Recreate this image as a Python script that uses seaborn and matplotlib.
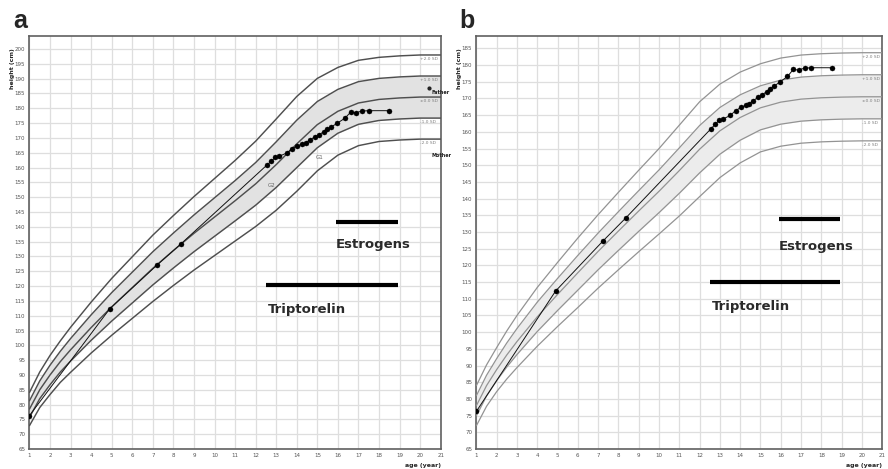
import numpy as np
import pandas as pd
import seaborn as sns
import matplotlib.pyplot as plt
from matplotlib.ticker import MultipleLocator

# reference ages (years) of the growth chart
ages = [1, 1.5, 2, 2.5, 3, 4, 5, 6, 7, 8, 9, 10, 11, 12, 13, 14, 15, 16, 17, 18, 19, 20, 21]

# panel a: boys reference (cm)
boys_mean = [78.5, 85.0, 90.0, 94.5, 98.5, 106.0, 113.0, 119.5, 126.0, 132.0, 137.8, 143.3,
             148.8, 154.5, 161.0, 168.0, 174.5, 179.0, 181.8, 183.0, 183.5, 183.8, 183.8]
boys_sd = [2.8, 3.0, 3.3, 3.5, 3.8, 4.3, 4.8, 5.2, 5.6, 5.9, 6.2, 6.5,
           6.8, 7.2, 7.7, 8.0, 7.8, 7.4, 7.2, 7.1, 7.1, 7.1, 7.1]

# panel b: girls reference (cm)
girls_mean = [78.0, 84.0, 88.8, 93.2, 97.2, 104.6, 111.3, 117.8, 124.2, 130.3, 136.3, 142.2,
              148.4, 154.8, 160.3, 164.3, 167.2, 168.9, 169.8, 170.2, 170.4, 170.5, 170.5]
girls_sd = [3.0, 3.1, 3.3, 3.6, 3.9, 4.4, 4.8, 5.2, 5.5, 5.8, 6.1, 6.4,
            6.8, 7.1, 7.0, 6.8, 6.6, 6.6, 6.6, 6.6, 6.6, 6.6, 6.6]

sd_levels = [2, 1, 0, -1, -2]
sd_names = ["+2.0 SD", "+1.0 SD", "±0.0 SD", "-1.0 SD", "-2.0 SD"]

# patient measurements
pat_age = [1.0, 4.9, 7.22, 8.36, 12.54, 12.76, 12.96, 13.15, 13.5, 13.77, 14.02, 14.27, 14.45,
           14.63, 14.87, 15.08, 15.3, 15.47, 15.65, 15.95, 16.33, 16.62, 16.88, 17.18, 17.5, 18.5]
pat_height = [76.3, 112.3, 127.2, 134.2, 160.8, 162.2, 163.5, 163.8, 164.9, 166.3, 167.3, 167.9, 168.4,
              169.3, 170.3, 171.1, 172.0, 172.9, 173.6, 174.9, 176.6, 178.7, 178.5, 179.1, 179.2, 179.2]

# treatments (start age, end age)
triptorelin = (12.5, 18.9)
estrogens = (15.9, 18.9)

sns.set_style("white")
plt.rcParams['font.family'] = ['DejaVu Sans']

fig = plt.figure(figsize=(8.88, 4.69), dpi=100)
ax_a = fig.add_axes([0.0332, 0.0426, 0.4631, 0.8806])
ax_b = fig.add_axes([0.5365, 0.0426, 0.4570, 0.8806])


def draw_panel(ax, mean, sd, ytop, line_col, band_col, lw):
    mean = np.array(mean)
    sd = np.array(sd)
    rows = []
    for k, name in zip(sd_levels, sd_names):
        for a, h in zip(ages, mean + k * sd):
            rows.append({"age": a, "height": h, "curve": name})
    curves = pd.DataFrame(rows)

    ax.fill_between(ages, mean - sd, mean + sd, color=band_col, lw=0, zorder=1)
    sns.lineplot(data=curves, x="age", y="height", units="curve", estimator=None,
                 color=line_col, lw=lw, ax=ax, zorder=3, legend=False)

    for k, name in zip(sd_levels, sd_names):
        ax.text(20.0, mean[-2] + k * sd[-2] - 1.2, name, fontsize=3.2, color="#808080",
                va="center", ha="left", zorder=4)

    pat = pd.DataFrame({"age": pat_age, "height": pat_height})
    sns.lineplot(data=pat, x="age", y="height", color="#111111", lw=0.7, ax=ax,
                 estimator=None, sort=False, zorder=5)
    sns.scatterplot(data=pat, x="age", y="height", color="black", s=13, ax=ax,
                    edgecolor="black", linewidth=0.3, zorder=6)

    ax.set_xlim(1, 21)
    ax.set_ylim(65, ytop)
    ax.xaxis.set_major_locator(MultipleLocator(1))
    ax.xaxis.set_minor_locator(MultipleLocator(0.25))
    ax.yaxis.set_major_locator(MultipleLocator(5))
    ax.yaxis.set_minor_locator(MultipleLocator(1))
    ax.grid(True, which="major", color="#dedede", lw=0.9, zorder=0)
    ax.set_axisbelow(True)
    ax.tick_params(axis="both", which="major", labelsize=4, length=2, width=0.6,
                   pad=1, colors="#555555", direction="out")
    ax.tick_params(axis="both", which="minor", length=1.2, width=0.4, colors="#777777")
    for s in ax.spines.values():
        s.set_color("#606060")
        s.set_linewidth(1.2)
    ax.set_xlabel("")
    ax.set_ylabel("")


draw_panel(ax_a, boys_mean, boys_sd, 204.4, "#4f4f4f", "#e2e2e2", 1.05)
draw_panel(ax_b, girls_mean, girls_sd, 188.7, "#939393", "#ececec", 0.9)

# treatment bars and labels
bars = [(ax_a, 141.7, 120.5, 134.0, 112.0), (ax_b, 133.9, 115.0, 125.8, 107.8)]
for ax, y_est, y_trip, t_est, t_trip in bars:
    ax.plot(estrogens, [y_est, y_est], color="black", lw=3, solid_capstyle="butt", zorder=7)
    ax.plot(triptorelin, [y_trip, y_trip], color="black", lw=3, solid_capstyle="butt", zorder=7)
    ax.text(estrogens[0], t_est, "Estrogens", fontsize=9.5, fontweight="bold",
            color="#2a2a2a", ha="left", va="center", zorder=7)
    ax.text(triptorelin[0] + 0.1, t_trip, "Triptorelin", fontsize=9.5, fontweight="bold",
            color="#2a2a2a", ha="left", va="center", zorder=7)

# parents and bone age marks on panel a
ax_a.plot([20.45], [186.7], "o", color="#222222", ms=2, zorder=6)
ax_a.text(20.55, 185.4, "Father", fontsize=3.5, fontweight="bold", color="#222222", va="center")
ax_a.text(20.55, 164.0, "Mother", fontsize=3.5, fontweight="bold", color="#222222", va="center")
ax_a.text(12.8, 154.0, "G2", fontsize=4, color="#666666", ha="center", va="center", zorder=6)
ax_a.text(15.1, 163.5, "G1", fontsize=4, color="#666666", ha="center", va="center", zorder=6)

# axis titles and panel letters
for ax in [ax_a, ax_b]:
    ax.text(-0.042, 0.97, "height (cm)", transform=ax.transAxes, rotation=90, fontsize=4.5,
            fontweight="bold", ha="center", va="top")
    ax.text(1.0, -0.035, "age (year)", transform=ax.transAxes, fontsize=4.5,
            fontweight="bold", ha="right", va="top")
fig.text(0.023, 0.955, "a", fontsize=18, fontweight="bold", ha="center", va="center",
         family="Liberation Sans")
fig.text(0.526, 0.955, "b", fontsize=18, fontweight="bold", ha="center", va="center",
         family="Liberation Sans")

fig.savefig("out.png", dpi=100)
